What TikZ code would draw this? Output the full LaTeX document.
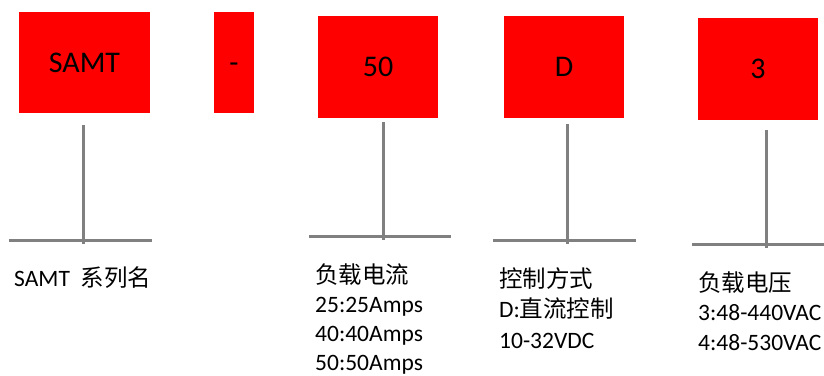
\documentclass[tikz,border=0pt]{standalone}
\usepackage{fontspec}
\setmainfont{Carlito}
\newfontfamily\cjk{Noto Sans CJK SC}
\usetikzlibrary{positioning}
\definecolor{boxred}{RGB}{255,0,0}
\definecolor{bargray}{RGB}{128,128,128}
\tikzset{
	redbox/.style={fill=boxred, draw=none, inner sep=0pt, text height=19pt, text depth=0pt, font=\fontsize{30}{30}\selectfont},
	graybar/.style={line width=3pt, color=bargray},
	lbl/.style={anchor=base west, inner sep=0pt, align=left, font=\fontsize{23.5}{29}\selectfont}
}

\begin{document}
\begin{tikzpicture}[x=1pt, y=-1pt]
		%%%%% START %%%%%
		\useasboundingbox (0, 0) rectangle (824, 375);
		
		\node[redbox, minimum width=131pt, minimum height=101pt] (samt) at (84.5, 62.5) {SAMT};
		\node[redbox, minimum width=40pt, minimum height=101pt] (dash) at (234, 62.5) {-};
		\node[redbox, minimum width=120pt, minimum height=102pt] (cur) at (378, 67) {50};
		\node[redbox, minimum width=120pt, minimum height=102pt] (ctl) at (564, 67) {D};
		\node[redbox, minimum width=120pt, minimum height=102pt] (vol) at (758, 69) {3};
		
		\coordinate (samt-top) at (83, 125);
		\coordinate (samt-foot) at (83, 244);
		\coordinate (samt-l) at (9, 240);
		\coordinate (samt-r) at (152, 240);
		\draw[graybar] (samt-top) -- (samt-foot);
		\draw[graybar] (samt-l) -- (samt-r);
		
		\coordinate (cur-top) at (383, 122);
		\coordinate (cur-foot) at (383, 240);
		\coordinate (cur-l) at (309, 236);
		\coordinate (cur-r) at (451, 236);
		\draw[graybar] (cur-top) -- (cur-foot);
		\draw[graybar] (cur-l) -- (cur-r);
		
		\coordinate (ctl-top) at (567, 124);
		\coordinate (ctl-foot) at (567, 244);
		\coordinate (ctl-l) at (493, 240);
		\coordinate (ctl-r) at (636, 240);
		\draw[graybar] (ctl-top) -- (ctl-foot);
		\draw[graybar] (ctl-l) -- (ctl-r);
		
		\coordinate (vol-top) at (766, 130);
		\coordinate (vol-foot) at (766, 248);
		\coordinate (vol-l) at (692, 244);
		\coordinate (vol-r) at (824, 244);
		\draw[graybar] (vol-top) -- (vol-foot);
		\draw[graybar] (vol-l) -- (vol-r);
		
		% base anchor sits on the last line
		\node[lbl] (samt-txt) at (14, 286) {SAMT\ \ {\cjk 系列名}};
		\node[lbl] (cur-txt) at (315, 370) {{\cjk 负载电流}\\25:25Amps\\40:40Amps\\50:50Amps};
		\node[lbl, font=\fontsize{23.5}{30.5}\selectfont] (ctl-txt) at (499, 348) {{\cjk 控制方式}\\D:{\cjk 直流控制}\\10-32VDC};
		\node[lbl, font=\fontsize{23.5}{29.5}\selectfont] (vol-txt) at (698, 350) {{\cjk 负载电压}\\3:48-440VAC\\4:48-530VAC};
		%%%%% END %%%%%
\end{tikzpicture}
\end{document}
